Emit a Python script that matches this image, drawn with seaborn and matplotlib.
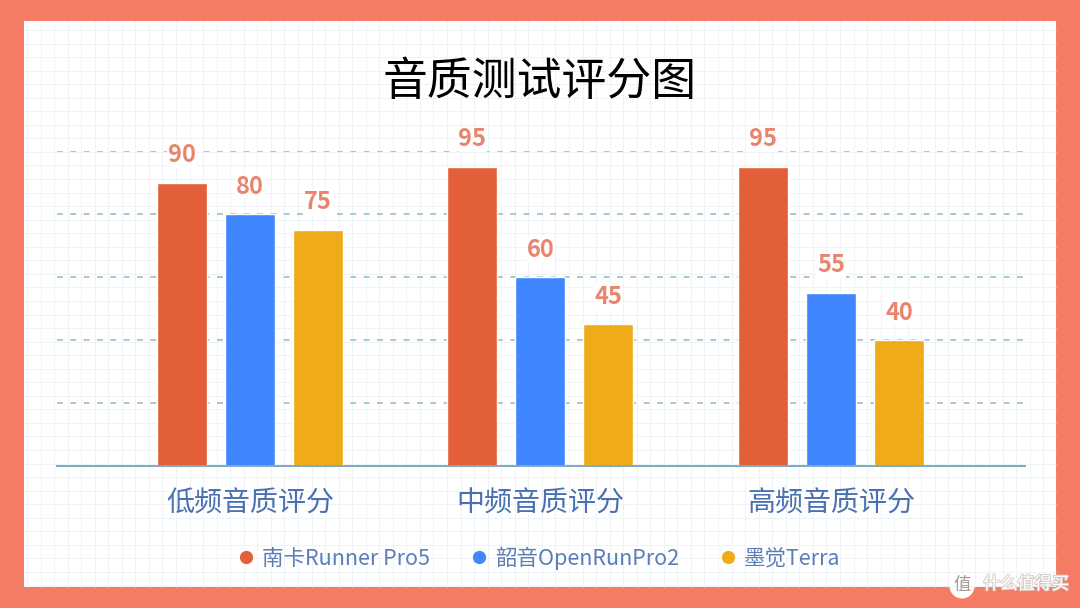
import numpy as np
import pandas as pd
import seaborn as sns
import matplotlib.pyplot as plt
import matplotlib.patheffects as pe
from matplotlib.lines import Line2D
from matplotlib.patches import Rectangle, Circle

categories = ['低频音质评分', '中频音质评分', '高频音质评分']
brands = ['南卡Runner Pro5', '韶音OpenRunPro2', '墨觉Terra']
nank_scores = [90, 95, 95]
shokz_scores = [80, 60, 55]
mojue_scores = [75, 45, 40]
y_ticks = [0, 20, 40, 60, 80, 100]
colors = ['#E35F38', '#3F86FF', '#F0AB1B']

sns.set_theme(style='white')
plt.rcParams['font.family'] = ['Noto Sans CJK SC', 'DejaVu Sans']

df = pd.DataFrame({
    'category': categories * 3,
    'brand': [brands[0]] * 3 + [brands[1]] * 3 + [brands[2]] * 3,
    'score': nank_scores + shokz_scores + mojue_scores,
})

W, H = 1080, 608
fig = plt.figure(figsize=(W / 100, H / 100), dpi=100)

# coral frame, white panel and the faint squared paper behind the chart
bg = fig.add_axes([0, 0, 1, 1], zorder=0)
bg.set_xlim(0, W)
bg.set_ylim(H, 0)
bg.axis('off')
bg.add_patch(Rectangle((0, 0), W, H, color='#F47C65', lw=0))
bg.add_patch(Rectangle((24, 21), 1032, 566, color='white', lw=0))
bg.vlines(np.arange(27, 1056, 13.55), 21, 587, color='#EBF1F4', lw=0.6)
bg.hlines(np.arange(30, 587, 13.55), 24, 1056, color='#EBF1F4', lw=0.6)

# axes box in pixels: x 57-1025, baseline 466, value 100 at 152
ax = fig.add_axes([57 / W, 1 - 466 / H, 968 / W, 315 / H], zorder=1)
ax.patch.set_alpha(0)
sns.barplot(data=df, x='category', y='score', hue='brand', palette=colors,
            width=0.702, gap=0.265, saturation=1, legend=False, ax=ax)
ax.set_xlim(-0.664, 2.668)
ax.set_ylim(0, 100)
ax.set_yticks(y_ticks)
ax.set_yticklabels([])
ax.set_xlabel('')
ax.set_ylabel('')
ax.set_axisbelow(True)
ax.grid(axis='y', color='#9DBEC8', lw=1.2, ls=(0, (3.5, 4.5)))
ax.tick_params(axis='both', length=0)
ax.tick_params(axis='x', labelsize=20.2, labelcolor='#4A70B2', pad=16)
sns.despine(ax=ax, left=True, top=True, right=True)
ax.spines['bottom'].set_color('#7FA9C4')
ax.spines['bottom'].set_linewidth(1.4)

for container in ax.containers:
    labels = ax.bar_label(container, padding=11, fontsize=17, fontweight='bold',
                          color='#E8856C')
    for t in labels:
        # white halo so the dashed grid breaks around the numbers
        t.set_bbox(dict(facecolor='white', edgecolor='none', pad=0.5))

handles = [Line2D([], [], marker='o', ls='', color=c, markersize=8.5) for c in colors]
fig.legend(handles, brands, loc='center', bbox_to_anchor=(540 / W, 1 - 558 / H), ncols=3,
           frameon=False, fontsize=15.5, labelcolor='#5B7DB8', handlelength=0.6,
           handletextpad=0.44, columnspacing=1.96, borderpad=0)

fig.text(540 / W, 1 - 82 / H, '音质测试评分图', ha='center', va='center',
         fontsize=32.3, color='black')

# watermark in the lower right corner, soft edge keeps it readable on the white panel
shadow = [pe.withStroke(linewidth=1.4, foreground='#D8CBC7')]
bg.add_patch(Circle((962, 586), 12.5, color='white', lw=0))
bg.text(962, 585, '值', ha='center', va='center', fontsize=12.5, color='#A89A96')
bg.text(983, 584, '什么值得买', ha='left', va='center', fontsize=12.4, color='white',
        path_effects=shadow)

fig.savefig('out.png', dpi=100)
